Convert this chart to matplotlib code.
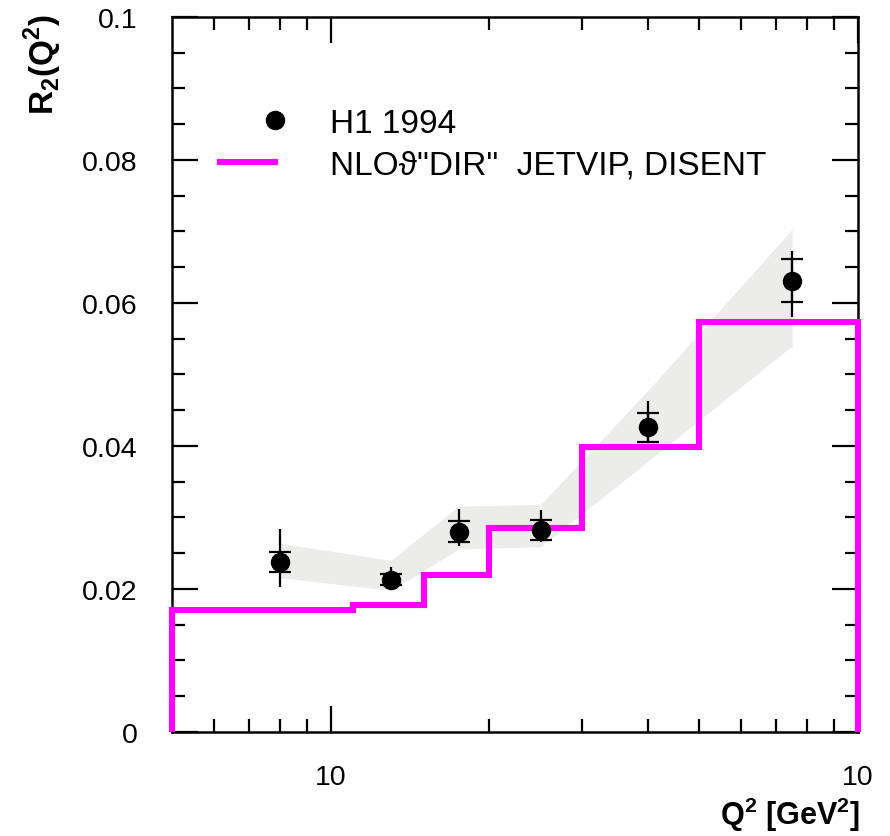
import numpy as np
import matplotlib
matplotlib.use("Agg")
import matplotlib.pyplot as plt
from matplotlib.lines import Line2D
from matplotlib.legend_handler import HandlerBase
from matplotlib.ticker import FixedLocator, MultipleLocator, NullFormatter

plt.rcParams['font.family'] = ['Liberation Sans', 'DejaVu Sans']
plt.rcParams['mathtext.fontset'] = 'custom'
plt.rcParams['mathtext.rm'] = 'Liberation Sans'
plt.rcParams['mathtext.bf'] = 'Liberation Sans:bold'

# H1 1994 measurement
q2 = [8.0, 13.0, 17.5, 25.0, 40.0, 75.0]
r2 = [0.0238, 0.0213, 0.0280, 0.0283, 0.0426, 0.0631]
r2_stat = [0.0014, 0.0008, 0.0015, 0.0014, 0.0020, 0.0030]
r2_tot_up = [0.0046, 0.0018, 0.0032, 0.0027, 0.0037, 0.0042]
r2_tot_dn = [0.0035, 0.0015, 0.0020, 0.0018, 0.0021, 0.0051]

# uncertainty band around the data
band_lo = [0.0216, 0.0198, 0.0256, 0.0259, 0.0379, 0.0540]
band_hi = [0.0264, 0.0240, 0.0316, 0.0318, 0.0478, 0.0703]

# NLO direct prediction, binned
nlo_edges = [5, 11, 15, 20, 30, 50, 100]
nlo_vals = [0.0171, 0.0178, 0.0220, 0.0285, 0.0399, 0.0573]

y_ticks = [0, 0.02, 0.04, 0.06, 0.08, 0.1]
y_ticklabels = ["0", "0.02", "0.04", "0.06", "0.08", "0.1"]
x_ticks = [10, 100]
x_ticklabels = ["10", "10"]

label_data = "H1 1994"
label_nlo = 'NLO\u03d1"DIR"  JETVIP, DISENT'


class DotAtEnd(HandlerBase):
    def create_artists(self, legend, orig_handle, xdescent, ydescent,
                       width, height, fontsize, trans):
        dot = Line2D([width - xdescent], [(height - ydescent) / 2],
                     marker='o', color='black', markersize=13, linestyle='none')
        dot.set_transform(trans)
        return [dot]


fig = plt.figure(figsize=(8.9, 8.37), dpi=100)
ax = fig.add_axes([0.1933, 0.1243, 0.7708, 0.8543])

ax.fill_between(q2, band_lo, band_hi, color='#ececea', lw=0, zorder=1)

steps = ax.stairs(nlo_vals, nlo_edges, baseline=0, color='#ff00ff', lw=4.4,
                  zorder=3, clip_on=False)

ax.errorbar(q2, r2, yerr=[r2_tot_dn, r2_tot_up], fmt='none', ecolor='black',
            elinewidth=1.6, capsize=0, zorder=4)
ax.errorbar(q2, r2, yerr=r2_stat, fmt='none', ecolor='black',
            elinewidth=1.6, capsize=8, capthick=1.6, zorder=4)
dots, = ax.plot(q2, r2, 'o', color='black', markersize=13, zorder=5)

ax.set_xscale('log')
ax.set_xlim(5, 100)
ax.set_ylim(0, 0.1)

ax.xaxis.set_major_locator(FixedLocator(x_ticks))
ax.xaxis.set_minor_locator(FixedLocator([6, 7, 8, 9, 20, 30, 40, 50, 60, 70, 80, 90]))
ax.xaxis.set_minor_formatter(NullFormatter())
ax.set_xticklabels(x_ticklabels)
ax.set_yticks(y_ticks)
ax.set_yticklabels(y_ticklabels)
ax.yaxis.set_minor_locator(MultipleLocator(0.005))

ax.tick_params(which='both', direction='in', top=True, right=True,
               width=1.6, labelsize=20.5)
ax.tick_params(which='major', length=19)
ax.tick_params(which='minor', length=9.5)
ax.tick_params(axis='y', pad=25)
ax.tick_params(axis='x', pad=23)
for sp in ax.spines.values():
    sp.set_linewidth(1.8)

ax.legend([dots, Line2D([], [], color='#ff00ff', lw=4.4)],
          [label_data, label_nlo],
          handler_map={dots: DotAtEnd()},
          loc='upper left', bbox_to_anchor=(0.07, 0.873), frameon=False,
          fontsize=24, handlelength=1.65, handletextpad=1.65,
          labelspacing=0.33, borderpad=0, borderaxespad=0)

fig.text(43 / 890, 1 - 14 / 837, r'R$_\mathbf{2}$(Q$^\mathbf{2}$)',
         rotation=90, ha='center', va='top', fontsize=24, fontweight='bold')
fig.text(860 / 890, 1 - 815 / 837, r'Q$^\mathbf{2}$ [GeV$^\mathbf{2}$]',
         ha='right', va='center', fontsize=22, fontweight='bold')

fig.savefig('out.png', dpi=100)
